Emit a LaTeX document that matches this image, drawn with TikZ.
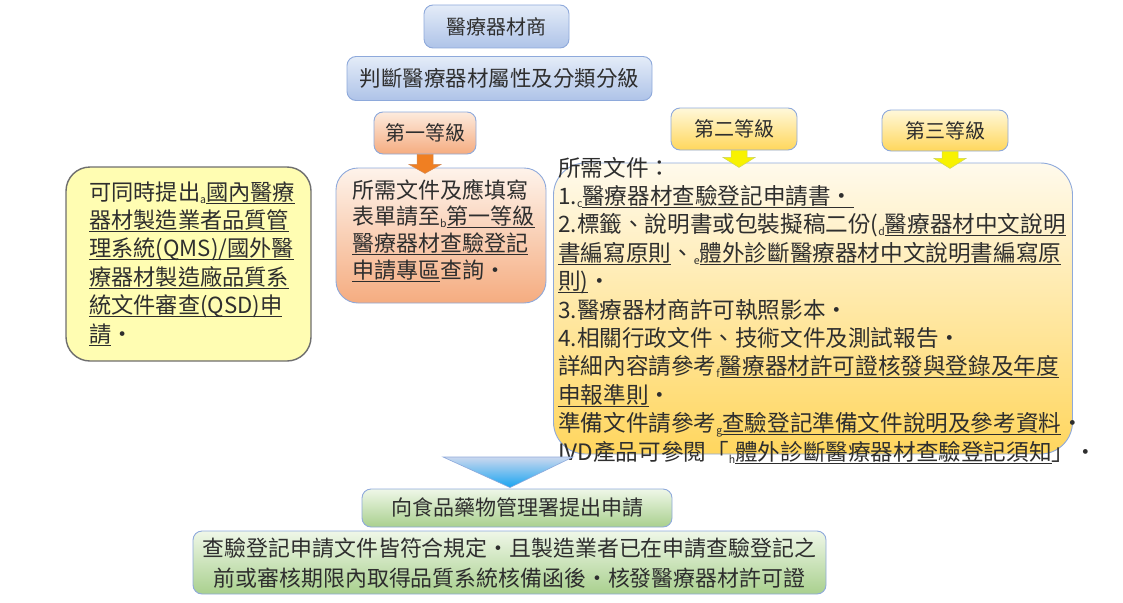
\documentclass[tikz,border=0pt]{standalone}
\usepackage{fontspec}
\setmainfont{Noto Sans CJK TC}
\usetikzlibrary{calc}
\definecolor{txt}{HTML}{2E2E2E}
\definecolor{bdr}{HTML}{8EA9DB}
\definecolor{blueT}{HTML}{E4ECF8}
\definecolor{blueB}{HTML}{AEC3E8}
\definecolor{orT}{HTML}{FDEBDD}
\definecolor{orB}{HTML}{F5AC80}
\definecolor{yeT}{HTML}{FFF8DA}
\definecolor{yeB}{HTML}{FFD75C}
\definecolor{bigT}{HTML}{FFFAEC}
\definecolor{bigB}{HTML}{FFD65E}
\definecolor{grT}{HTML}{EFF7E8}
\definecolor{grB}{HTML}{A9D08E}
\definecolor{lemon}{HTML}{FFFDB2}
\definecolor{lemonB}{HTML}{6E6E6E}
\definecolor{triT}{HTML}{CBD8EF}
\definecolor{triB}{HTML}{18A4F0}
\definecolor{arrO}{HTML}{F07F22}
\definecolor{arrY}{HTML}{F8F200}
\newcommand\fs[1]{\fontsize{#1}{#1}\selectfont}
\newcommand\lk[1]{\setbox0=\hbox{#1}\rlap{\rule[-3.5pt]{\wd0}{0.9pt}}\box0}
\newcommand\sbl[1]{\raisebox{-3pt}{\fontsize{10.5}{10.5}\selectfont #1}}
\newcommand\pd{・}
\newcommand\blockarr[4]{%
  \filldraw[#1] (#2) ++(-8,0) -- ++(16,0) -- ++(0,#3) -- ++(8,0) -- ++(-16,#4) -- ++(-16,-#4) -- ++(8,0) -- cycle;}
\begin{document}
\begin{tikzpicture}[x=1pt,y=-1pt,
  box/.style={draw=bdr, line width=0.9pt, rounded corners=9pt, inner sep=0pt, anchor=center, text=txt},
  bluebox/.style={box, top color=blueT, bottom color=blueB},
  orbox/.style={box, top color=orT, bottom color=orB},
  yebox/.style={box, top color=yeT, bottom color=yeB},
  grbox/.style={box, top color=grT, bottom color=grB},
  ln/.style={anchor=base west, inner sep=0pt, text=txt},
  lnc/.style={anchor=base, inner sep=0pt, text=txt},
  arrowO/.style={fill=arrO, draw=arrO!70!bdr, line width=0.5pt},
  arrowY/.style={fill=arrY, draw=arrY!60!bdr, line width=0.5pt}]
\useasboundingbox (0,0) rectangle (1123,602);

% top boxes
\node[bluebox, minimum width=145pt, minimum height=43pt] (dealer) at (496.5,26.5) {\fs{20}醫療器材商};
\node[bluebox, minimum width=305pt, minimum height=44pt] (classify) at (499.5,78.5) {\fs{21.5}判斷醫療器材屬性及分類分級};

% level boxes
\node[orbox, minimum width=102pt, minimum height=42pt] (lv1) at (425,133) {\fs{20}第一等級};
\node[yebox, minimum width=126pt, minimum height=42pt] (lv2) at (734,129) {\fs{20}第二等級};
\node[yebox, minimum width=126pt, minimum height=41pt] (lv3) at (945,130.5) {\fs{20}第三等級};

% left lemon box
\node[draw=lemonB, fill=lemon, line width=1.4pt, rounded corners=24pt, minimum width=245pt, minimum height=194pt] (qms) at (188.5,264) {};
\node[ln] (q1) at (89,200) {\fs{22.2}可同時提出\sbl{a}\lk{國內醫療}};
\node[ln] (q2) at (89,228.4) {\fs{22.2}\lk{器材製造業者品質管}};
\node[ln] (q3) at (89,256.8) {\fs{22.2}\lk{理系統(QMS)/國外醫}};
\node[ln] (q4) at (89,285.2) {\fs{22.2}\lk{療器材製造廠品質系}};
\node[ln] (q5) at (89,313.6) {\fs{22.2}\lk{統文件審查(QSD)申}};
\node[ln] (q6) at (89,342) {\fs{22.2}\lk{請}\pd};

% orange box (class I)
\node[box, top color=orT!60!white, bottom color=orB, rounded corners=22pt, minimum width=210pt, minimum height=135pt] (box1) at (441,235.5) {};
\node[ln] (o1) at (352,198) {\fs{22}所需文件及應填寫};
\node[ln] (o2) at (352,224.7) {\fs{22}表單請至\sbl{b}\lk{第一等級}};
\node[ln] (o3) at (352,251.3) {\fs{22}\lk{醫療器材查驗登記}};
\node[ln] (o4) at (352,278) {\fs{22}\lk{申請專區}查詢\pd};

% big box (class II / III)
\node[box, top color=bigT, bottom color=bigB, rounded corners=32pt, minimum width=519pt, minimum height=291pt] (box2) at (813,308.5) {};
\node[ln] (b1) at (558,176) {\fs{22.6}所需文件：};
\node[ln] (b2) at (558,204.4) {\fs{22.6}1.\sbl{c}\lk{醫療器材查驗登記申請書\pd}};
\node[ln] (b3) at (558,232.8) {\fs{22.6}2.標籤、說明書或包裝擬稿二份(\sbl{d}\lk{醫療器材中文說明}};
\node[ln] (b4) at (558,261.2) {\fs{22.6}\lk{書編寫原則}、\sbl{e}\lk{體外診斷醫療器材中文說明書編寫原}};
\node[ln] (b5) at (558,289.6) {\fs{22.6}\lk{則)}\pd};
\node[ln] (b6) at (558,318) {\fs{22.6}3.醫療器材商許可執照影本\pd};
\node[ln] (b7) at (558,346.4) {\fs{22.6}4.相關行政文件、技術文件及測試報告\pd};
\node[ln] (b8) at (558,374.8) {\fs{22.6}詳細內容請參考\sbl{f}\lk{醫療器材許可證核發與登錄及年度}};
\node[ln] (b9) at (558,403.2) {\fs{22.6}\lk{申報準則}\pd};
\node[ln] (b10) at (558,431.6) {\fs{22.6}準備文件請參考\sbl{g}\lk{查驗登記準備文件說明及參考資料}\pd};
\node[ln] (b11) at (558,460) {\fs{22.6}IVD產品可參閱「\sbl{h}\lk{體外診斷醫療器材查驗登記須知}」\pd};

% arrows
\blockarr{arrowO}{lv1.south}{10}{9}
\blockarr{arrowY}{$(lv2.south)+(5,0)$}{7}{10}
\blockarr{arrowY}{$(lv3.south)+(5,0)$}{7}{10}

% bottom
\node[grbox, minimum width=310pt, minimum height=38pt] (apply) at (517,508) {\fs{21}向食品藥物管理署提出申請};
\node[grbox, minimum width=633pt, minimum height=63pt] (final) at (509.5,562.5) {};
\node[lnc] (f1) at (509.5,556) {\fs{21.9}查驗登記申請文件皆符合規定\pd 且製造業者已在申請查驗登記之};
\node[lnc] (f2) at (509.5,586) {\fs{21.9}前或審核期限內取得品質系統核備函後\pd 核發醫療器材許可證};

% funnel triangle into apply box
\coordinate (tl) at (443,457);
\coordinate (tr) at (573,457);
\coordinate (tip) at ($(apply.north)+(-7,-1)$);
\shade[top color=triT, bottom color=triB] (tl) -- (tr) -- (tip) -- cycle;
\draw[bdr, line width=0.6pt] (tl) -- (tr) -- (tip) -- cycle;
\end{tikzpicture}
\end{document}
